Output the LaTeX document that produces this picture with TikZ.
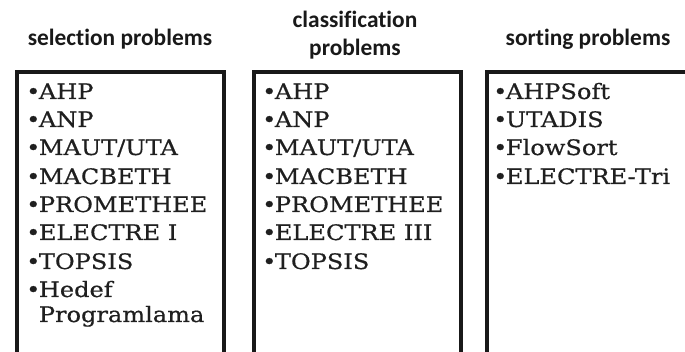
\documentclass[tikz,border=0pt]{standalone}
\usepackage{fontspec}
\setmainfont{DejaVu Serif}
\newfontfamily\headfont[Ligatures=NoCommon]{Carlito}
\newfontfamily\itemfont[FakeStretch=1.13,FakeBold=0.6]{DejaVu Serif}
\newcommand{\bul}{•\kern-1.5pt}
\begin{document}
\begin{tikzpicture}[x=1pt,y=-1pt]
\tikzset{
  head/.style={font=\headfont\bfseries\fontsize{23.4}{28}\selectfont,
    text=black!90, inner sep=0pt, anchor=base},
  item/.style={font=\itemfont\fontsize{21.3}{25}\selectfont,
    text=black!88, inner sep=0pt, anchor=base west},
  frame/.style={draw=black!90, line width=3.6pt, inner sep=0pt,
    anchor=north west, minimum height=320pt},
}
\useasboundingbox (0,0) rectangle (685,352);
\clip (0,0) rectangle (685,352);

% column frames (open towards the bottom edge)
\node[frame, minimum width=207pt] (box1) at (15,70) {};
\node[frame, minimum width=207pt] (box2) at (252,70) {};
\node[frame, minimum width=240pt] (box3) at (485,70) {};

% column headings
\node[head] (h1) at (120,46) {selection problems};
\node[head] (h2a) at (355,28) {classification};
\node[head] (h2b) at (355,56) {problems};
\node[head] (h3) at (588,46) {sorting problems};

% selection methods
\node[item] (s1) at (26,99)  {\bul AHP};
\node[item] (s2) at (26,127) {\bul ANP};
\node[item] (s3) at (26,155) {\bul MAUT/UTA};
\node[item] (s4) at (26,184) {\bul MACBETH};
\node[item] (s5) at (26,212) {\bul PROMETHEE};
\node[item] (s6) at (26,240) {\bul ELECTRE I};
\node[item] (s7) at (26,269) {\bul TOPSIS};
\node[item] (s8) at (26,297) {\bul Hedef};
\node[item] (s9) at (26,322) {\phantom{\bul}Programlama};

% classification methods
\node[item] (c1) at (262,99)  {\bul AHP};
\node[item] (c2) at (262,127) {\bul ANP};
\node[item] (c3) at (262,155) {\bul MAUT/UTA};
\node[item] (c4) at (262,184) {\bul MACBETH};
\node[item] (c5) at (262,212) {\bul PROMETHEE};
\node[item] (c6) at (262,240) {\bul ELECTRE III};
\node[item] (c7) at (262,269) {\bul TOPSIS};

% sorting methods
\node[item] (t1) at (493,99)  {\bul AHPSoft};
\node[item] (t2) at (493,127) {\bul UTADIS};
\node[item] (t3) at (493,155) {\bul FlowSort};
\node[item] (t4) at (493,184) {\bul ELECTRE-Tri};
\end{tikzpicture}
\end{document}
